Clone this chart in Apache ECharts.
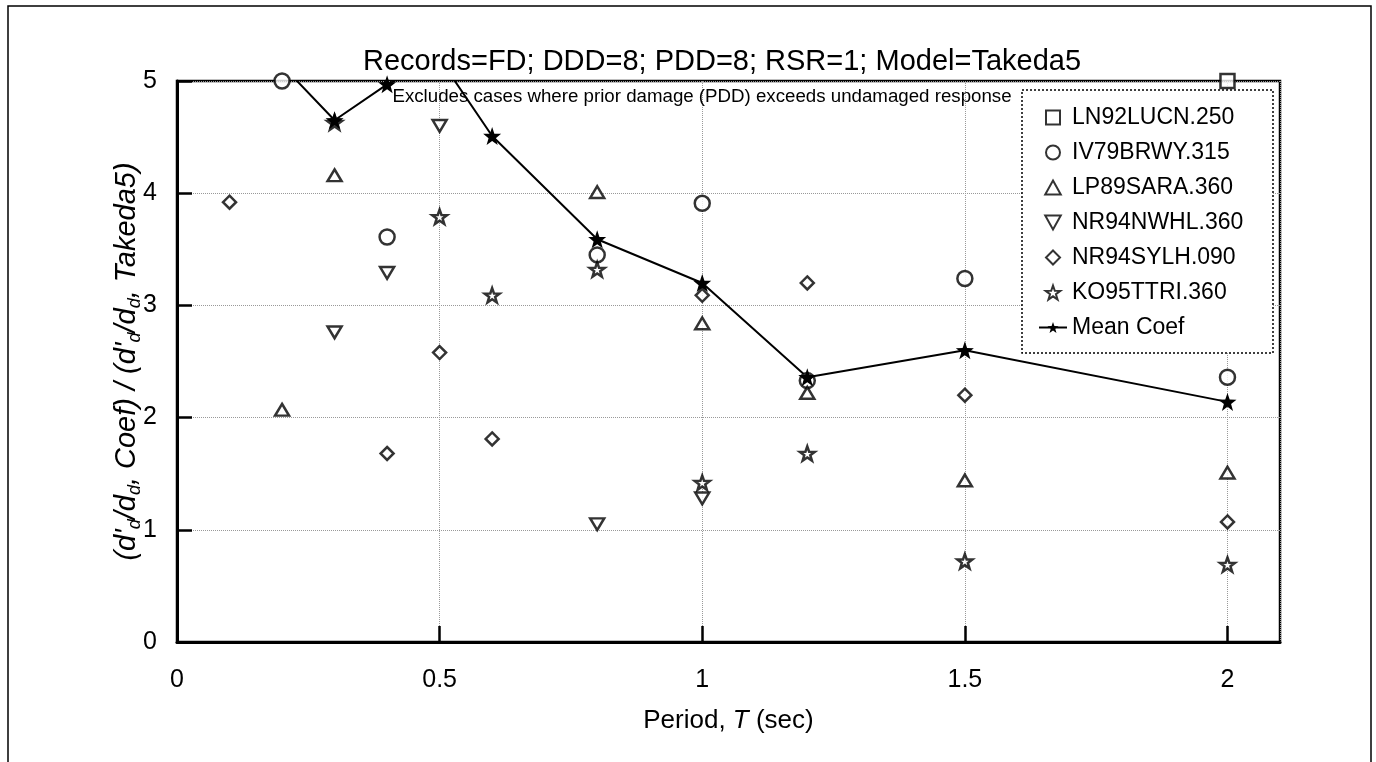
<!DOCTYPE html>
<html><head><meta charset="utf-8">
<script src="https://cdn.jsdelivr.net/npm/echarts@6/dist/echarts.min.js"></script>
<style>html,body{margin:0;padding:0;background:#fff}#c{width:1376px;height:762px}</style>
</head><body><div id="c"></div>
<script>
// Periods T (sec)
const periods = [0.1, 0.2, 0.3, 0.4, 0.5, 0.6, 0.8, 1.0, 1.2, 1.5, 2.0];
// Series values (null = not plotted / off chart)
const ln92lucn = [null, null, null, null, null, null, null, null, null, null, 5.0];
const iv79brwy = [null, 5.0, null, 3.61, null, null, 3.45, 3.91, 2.33, 3.24, 2.36];
const lp89sara = [null, 2.07, 4.16, null, null, null, 4.01, 2.84, 2.22, 1.44, 1.51];
const nr94nwhl = [null, null, 2.76, 3.29, 4.60, null, 1.05, 1.28, null, null, null];
const nr94sylh = [3.92, null, null, 1.68, 2.58, 1.81, null, 3.09, 3.20, 2.20, 1.07];
const ko95ttri = [null, null, 4.63, null, 3.79, 3.09, 3.32, 1.42, 1.68, 0.72, 0.69];
const meanCoef = [null, 5.14, 4.65, 4.97, 5.20, 4.51, 3.59, 3.20, 2.36, 2.60, 2.14];
const seriesNames = ['LN92LUCN.250', 'IV79BRWY.315', 'LP89SARA.360', 'NR94NWHL.360', 'NR94SYLH.090', 'KO95TTRI.360', 'Mean Coef'];
const titleText = 'Records=FD; DDD=8; PDD=8; RSR=1; Model=Takeda5';
const noteText = 'Excludes cases where prior damage (PDD) exceeds undamaged response';

const FONT = '"Liberation Sans", Arial, sans-serif';
const STAR = 'path://M0,-10L2.35,-3.24L9.51,-3.09L3.8,1.24L5.88,8.09L0,4L-5.88,8.09L-3.8,1.24L-9.51,-3.09L-2.35,-3.24Z';
const SQUARE = 'path://M0,0H10V10H0Z';
const TRI_UP = 'path://M5,0L10,9L0,9Z';
const TRI_DOWN = 'path://M0,0L10,0L5,9Z';
const DIAMOND = 'path://M5,0L10,5L5,10L0,5Z';
function pairs(vals) { return periods.map((t, i) => [t, vals[i]]).filter(p => p[1] != null); }
const hollow = { color: '#fff', borderColor: '#000', borderWidth: 2.5 };

const chart = echarts.init(document.getElementById('c'), null, { renderer: 'canvas' });
chart.setOption({
  backgroundColor: '#fff',
  animation: false,
  grid: { left: 177, top: 81, right: 96, bottom: 120, show: true, borderColor: '#000', borderWidth: 2.5, outerBoundsMode: 'none' },
  xAxis: {
    type: 'value', min: 0, max: 2.1, interval: 0.5,
    axisLine: { lineStyle: { color: '#000', width: 3 } },
    axisTick: { inside: true, length: 16, lineStyle: { color: '#000', width: 2.5 } },
    axisLabel: { showMaxLabel: false, margin: 26, fontSize: 25, color: '#000', fontFamily: FONT },
    splitLine: { show: true, lineStyle: { type: 'dotted', color: '#999', width: 1 } },
    name: '{n|Period, }{i|T}{n| (sec)}', nameLocation: 'middle', nameGap: 66, nameMoveOverlap: false,
    nameTextStyle: { rich: { n: { fontSize: 26, fontFamily: FONT, color: '#000' }, i: { fontSize: 26, fontFamily: FONT, fontStyle: 'italic', color: '#000' } } }
  },
  yAxis: {
    type: 'value', min: 0, max: 5, interval: 1,
    axisLine: { lineStyle: { color: '#000', width: 3 } },
    axisTick: { inside: true, length: 15, lineStyle: { color: '#000', width: 2.5 } },
    axisLabel: { margin: 20, fontSize: 25, color: '#000', fontFamily: FONT },
    splitLine: { show: true, lineStyle: { type: 'dotted', color: '#999', width: 1 } },
    name: "{i|(d'}{s|d}{i|/d}{s|d}{i|, Coef) / (d'}{s|d}{i|/d}{s|d}{i|, Takeda5)}",
    nameLocation: 'middle', nameRotate: 90, nameGap: 33, nameMoveOverlap: false,
    nameTextStyle: { rich: {
      i: { fontSize: 29, fontFamily: FONT, fontStyle: 'italic', color: '#000', lineHeight: 34 },
      s: { fontSize: 18, fontFamily: FONT, fontStyle: 'italic', color: '#000', lineHeight: 34, verticalAlign: 'bottom' }
    } }
  },
  legend: {
    orient: 'vertical', left: 1038, top: 106, padding: 0, itemWidth: 28, itemHeight: 14, itemGap: 12,
    symbolKeepAspect: true,
    textStyle: { fontSize: 23, fontFamily: FONT, color: '#000', lineHeight: 23 },
    data: seriesNames
  },
  graphic: [
    { type: 'rect', z: 3, shape: { x: 1022, y: 90, width: 251, height: 263 }, style: { fill: '#fff', stroke: '#000', lineWidth: 1.5, lineDash: [2, 2] } },
    { type: 'polyline', z: 10, shape: { points: [[8, 762], [8, 6], [1371, 6], [1371, 762]] }, style: { fill: null, stroke: '#000', lineWidth: 1.5 } },
    { type: 'text', z: 10, x: 722, y: 62, style: { text: titleText, fontSize: 29, fontFamily: FONT, fill: '#000', align: 'center', verticalAlign: 'middle' } },
    { type: 'text', z: 10, x: 702, y: 97, style: { text: noteText, fontSize: 18.7, fontFamily: FONT, fill: '#000', align: 'center', verticalAlign: 'middle' } }
  ],
  series: [
    { name: seriesNames[0], type: 'scatter', data: pairs(ln92lucn), symbol: SQUARE, symbolSize: 14, symbolKeepAspect: true, itemStyle: hollow, clip: false },
    { name: seriesNames[1], type: 'scatter', data: pairs(iv79brwy), symbol: 'circle', symbolSize: 15, symbolKeepAspect: true, itemStyle: hollow, clip: false },
    { name: seriesNames[2], type: 'scatter', data: pairs(lp89sara), symbol: TRI_UP, symbolSize: [14, 13], symbolKeepAspect: true, itemStyle: hollow, clip: false },
    { name: seriesNames[3], type: 'scatter', data: pairs(nr94nwhl), symbol: TRI_DOWN, symbolSize: [14, 13], symbolKeepAspect: true, itemStyle: hollow, clip: false },
    { name: seriesNames[4], type: 'scatter', data: pairs(nr94sylh), symbol: DIAMOND, symbolSize: 13, symbolKeepAspect: true, itemStyle: hollow, clip: false },
    { name: seriesNames[5], type: 'scatter', data: pairs(ko95ttri), symbol: STAR, symbolSize: 15, symbolKeepAspect: true, itemStyle: { color: '#fff', borderColor: '#000', borderWidth: 2.5 }, clip: false },
    { name: seriesNames[6], type: 'line', data: pairs(meanCoef), symbol: STAR, symbolSize: 18, showAllSymbol: true, itemStyle: { color: '#000' }, lineStyle: { color: '#000', width: 2 }, clip: true, z: 2 }
  ]
});
</script></body></html>
